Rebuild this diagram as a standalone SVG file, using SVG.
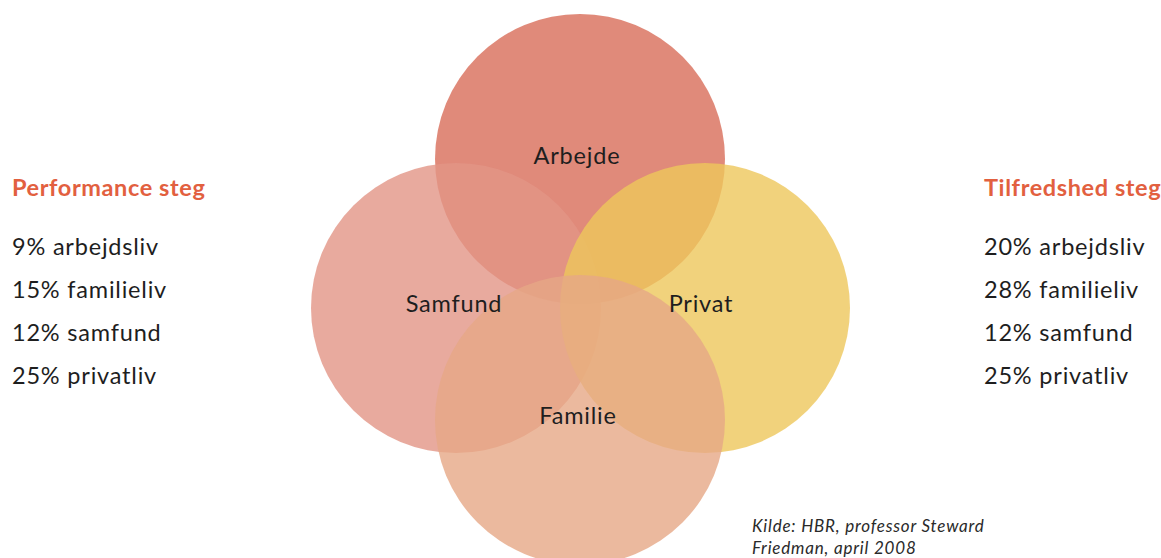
<svg xmlns="http://www.w3.org/2000/svg" width="1161" height="558" viewBox="0 0 1161 558">
  <style>
    .circle { opacity: 0.8; }
    .label { font-family: Lato, "Noto Sans", sans-serif; font-size: 23.5px; letter-spacing: 0.8px; fill: #1e1e1e; }
    .center { text-anchor: middle; }
    .head { font-family: Lato, "Noto Sans", sans-serif; font-size: 23.5px; letter-spacing: 0.6px; font-weight: 700; fill: #e2603f; }
    .note { font-family: Lato, "Noto Sans", sans-serif; font-size: 17px; letter-spacing: 0.8px; font-style: italic; fill: #2a2a2a; }
  </style>
  <rect width="1161" height="558" fill="#ffffff"/>

  <!-- four overlapping life areas -->
  <g id="arbejde">
    <circle class="circle" cx="580" cy="159" r="145" fill="#d86d59"/>
  </g>
  <g id="samfund">
    <circle class="circle" cx="456" cy="308" r="145" fill="#e29586"/>
  </g>
  <g id="privat">
    <circle class="circle" cx="705" cy="308" r="145" fill="#eec75b"/>
  </g>
  <g id="familie">
    <circle class="circle" cx="580" cy="420" r="145" fill="#e6a886"/>
  </g>
  <g id="connectors"/>

  <g id="circle-labels">
    <text class="label center" x="577" y="164">Arbejde</text>
    <text class="label center" x="454" y="312">Samfund</text>
    <text class="label center" x="701" y="312">Privat</text>
    <text class="label center" x="578" y="424">Familie</text>
  </g>

  <!-- left column -->
  <g id="performance">
    <text class="head" x="12" y="196">Performance steg</text>
    <text class="label" x="12" y="255">9% arbejdsliv</text>
    <text class="label" x="12" y="298">15% familieliv</text>
    <text class="label" x="12" y="341">12% samfund</text>
    <text class="label" x="12" y="384">25% privatliv</text>
  </g>

  <!-- right column -->
  <g id="tilfredshed">
    <text class="head" x="984" y="196">Tilfredshed steg</text>
    <text class="label" x="984" y="255">20% arbejdsliv</text>
    <text class="label" x="984" y="298">28% familieliv</text>
    <text class="label" x="984" y="341">12% samfund</text>
    <text class="label" x="984" y="384">25% privatliv</text>
  </g>

  <g id="source">
    <text class="note" x="752" y="532">Kilde: HBR, professor Steward</text>
    <text class="note" x="752" y="554">Friedman, april 2008</text>
  </g>
</svg>
